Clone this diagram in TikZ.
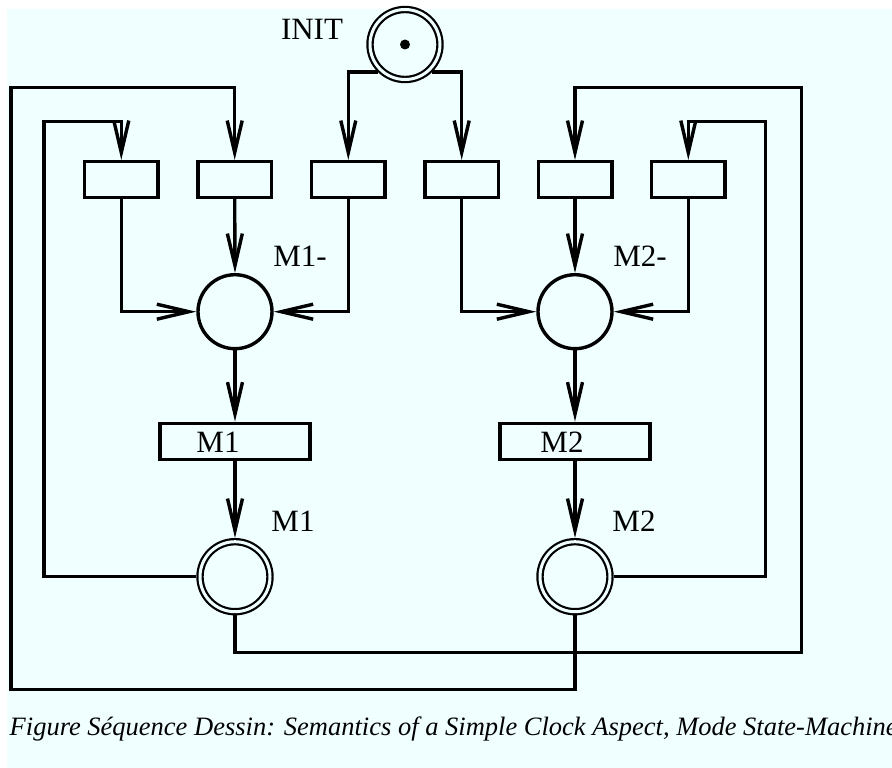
\documentclass[tikz,border=0pt]{standalone}
\usepackage{fontspec}
\setmainfont{Liberation Serif}
\usetikzlibrary{arrows.meta}
\definecolor{bgazure}{RGB}{240,255,255}
\begin{document}
\begin{tikzpicture}[x=1pt,y=-1pt,
  line width=3.4pt,
  arr/.style={-{Straight Barb[length=32pt,width=15pt]}},
  tbox/.style={draw,rectangle,minimum width=73.6pt,minimum height=35.6pt,inner sep=0pt},
  mbox/.style={draw,rectangle,minimum width=150pt,minimum height=36pt,inner sep=0pt},
  place/.style={draw,circle,minimum size=74pt,inner sep=0pt},
  dplace/.style={draw,circle,double=bgazure,double distance=3pt,line width=2.2pt,outer sep=3.7pt,minimum size=70pt,inner sep=0pt},
  lbl/.style={font=\fontsize{31}{36}\selectfont,inner sep=0pt}]
\useasboundingbox (0,0) rectangle (892,768);
\clip (0,0) rectangle (892,768);
\fill[bgazure] (7,9) rectangle (892,768);

% nodes
\node[dplace] (init) at (405,44.5) {};
\fill (init.center) circle (5pt);
\node[lbl] (initl) at (312,29) {INIT};

\node[tbox] (b1) at (121.3,179.5) {};
\node[tbox] (b2) at (234.7,179.5) {};
\node[tbox] (b3) at (348.3,179.5) {};
\node[tbox] (b4) at (461.7,179.5) {};
\node[tbox] (b5) at (575,179.5) {};
\node[tbox] (b6) at (688.3,179.5) {};

\node[place] (m1m) at (235,311.7) {};
\node[place] (m2m) at (575,311.7) {};
\node[lbl] (m1ml) at (300,256) {M1-};
\node[lbl] (m2ml) at (640,256) {M2-};

\node[mbox] (t1) at (235,441.3) {};
\node[mbox] (t2) at (575,441.3) {};
\node[lbl] (t1l) at (218,442.5) {M1};
\node[lbl] (t2l) at (562,442.5) {M2};

\node[dplace] (m1d) at (235,576.7) {};
\node[dplace] (m2d) at (575,576.7) {};
\node[lbl] (m1dl) at (293,521) {M1};
\node[lbl] (m2dl) at (634,521) {M2};

% corner coordinates
\coordinate (oly) at (0,87.7);
\coordinate (ily) at (0,121.7);
\coordinate (olx) at (11,0);
\coordinate (ilx) at (44,0);
\coordinate (orx) at (801.7,0);
\coordinate (irx) at (765.7,0);
\coordinate (bot1) at (0,652.7);
\coordinate (bot2) at (0,689.3);

% INIT outputs
\draw[arr] (init.225) -| (b3.north);
\draw[arr] (init.-45) -| (b4.north);

% boxes to M- places
\draw[arr] (b1.south) |- (m1m.west);
\draw[arr] (b2.south) -- (m1m.north);
\draw[arr] (b3.south) |- (m1m.east);
\draw[arr] (b4.south) |- (m2m.west);
\draw[arr] (b5.south) -- (m2m.north);
\draw[arr] (b6.south) |- (m2m.east);

% M- to transitions to places
\draw[arr] (m1m.south) -- (t1.north);
\draw[arr] (m2m.south) -- (t2.north);
\draw[arr] (t1.south) -- (m1d.north);
\draw[arr] (t2.south) -- (m2d.north);

% feedback loops
\draw[arr] (m2d.south) -- (m2d.south |- bot2) -- (olx |- bot2) -- (olx |- oly) -- (b2.north |- oly) -- (b2.north);
\draw[arr] (m1d.west) -- (ilx |- m1d.west) -- (ilx |- ily) -- (b1.north |- ily) -- (b1.north);
\draw[arr] (m1d.south) -- (m1d.south |- bot1) -- (orx |- bot1) -- (orx |- oly) -- (b5.north |- oly) -- (b5.north);
\draw[arr] (m2d.east) -- (irx |- m2d.east) -- (irx |- ily) -- (b6.north |- ily) -- (b6.north);

% caption
\node[anchor=base west,inner sep=0pt,font=\fontsize{26.5}{30}\selectfont\itshape] (cap) at (8,735) {Figure Séquence Dessin: Semantics of a Simple Clock Aspect, Mode State-Machine};
\end{tikzpicture}
\end{document}
